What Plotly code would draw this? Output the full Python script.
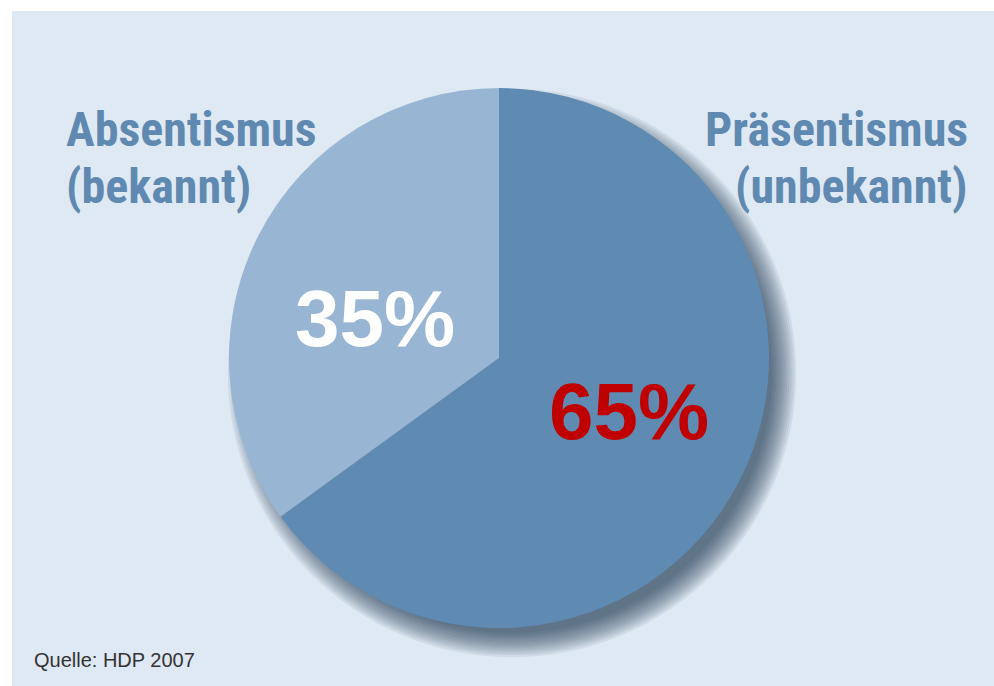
import plotly.graph_objects as go

# ---- data ----
labels = ["Absentismus<br>(bekannt)", "Präsentismus<br>(unbekannt)"]
values = [35, 65]
source = "Quelle: HDP 2007"

# ---- style ----
W, H = 994, 686
slice_colors = ["#98b6d3", "#5f8bb3"]
pct_colors = ["#ffffff", "#c00000"]
label_color = "#5f89b0"
bg = "#dfe9f3"
cond_font = "Roboto Condensed, Open Sans Condensed, DejaVu Sans Condensed, sans-serif"
pct_font = "Liberation Sans, Arial, sans-serif"

cx, cy, R = 499, 358, 270  # pixel centre/radius of pie


def px(x):
    return x / W


def py(y):
    return 1 - y / H


fig = go.Figure()
# Präsentismus drawn first, clockwise from 12 o'clock, so Absentismus sits upper-left
fig.add_trace(go.Pie(
    labels=labels[::-1],
    values=values[::-1],
    sort=False,
    direction="clockwise",
    rotation=0,
    marker=dict(colors=slice_colors[::-1], line=dict(width=0)),
    textinfo="none",
    hoverinfo="label+percent",
    showlegend=False,
    domain=dict(x=[px(cx - R), px(cx + R)], y=[py(cy + R), py(cy - R)]),
))

shapes = [
    dict(type="rect", xref="paper", yref="paper", x0=px(12), x1=1, y0=0, y1=py(11),
         fillcolor=bg, line=dict(width=0), layer="below"),
]
# soft drop shadow (lower right)
N = 12
for k in range(N):
    r = R - 10 + k * 2.2
    ox, oy = 13, 15
    shapes.append(dict(
        type="circle", xref="paper", yref="paper",
        x0=px(cx + ox - r), x1=px(cx + ox + r),
        y0=py(cy + oy + r), y1=py(cy + oy - r),
        fillcolor="#1d3650", opacity=0.08, line=dict(width=0), layer="below"))

annotations = []
# side labels: each line placed separately for tight line spacing
LS = 48
line_mid = [129, 186]
for lab, x, anchor in [(labels[0], 64, "left"), (labels[1], 970, "right")]:
    for j, part in enumerate(lab.split("<br>")):
        annotations.append(dict(
            text="<b>" + part + "</b>", x=px(x), y=py(line_mid[j]),
            xref="paper", yref="paper", xanchor=anchor, yanchor="middle",
            showarrow=False, font=dict(family=cond_font, size=LS, color=label_color)))

annotations += [
    dict(text="<b>%d%%</b>" % values[0], x=px(375), y=py(319), xref="paper", yref="paper",
         xanchor="center", yanchor="middle", showarrow=False,
         font=dict(family=pct_font, size=80, color=pct_colors[0])),
    dict(text="<b>%d%%</b>" % values[1], x=px(629), y=py(412), xref="paper", yref="paper",
         xanchor="center", yanchor="middle", showarrow=False,
         font=dict(family=pct_font, size=80, color=pct_colors[1])),
    dict(text=source, x=px(32), y=py(660), xref="paper", yref="paper",
         xanchor="left", yanchor="middle", showarrow=False,
         font=dict(family="Liberation Sans, Arial, sans-serif", size=20, color="#333333")),
]

fig.update_layout(
    width=W, height=H,
    margin=dict(l=0, r=0, t=0, b=0),
    paper_bgcolor="#ffffff",
    plot_bgcolor=bg,
    shapes=shapes,
    annotations=annotations,
    showlegend=False,
)

fig.write_html("out.html")
